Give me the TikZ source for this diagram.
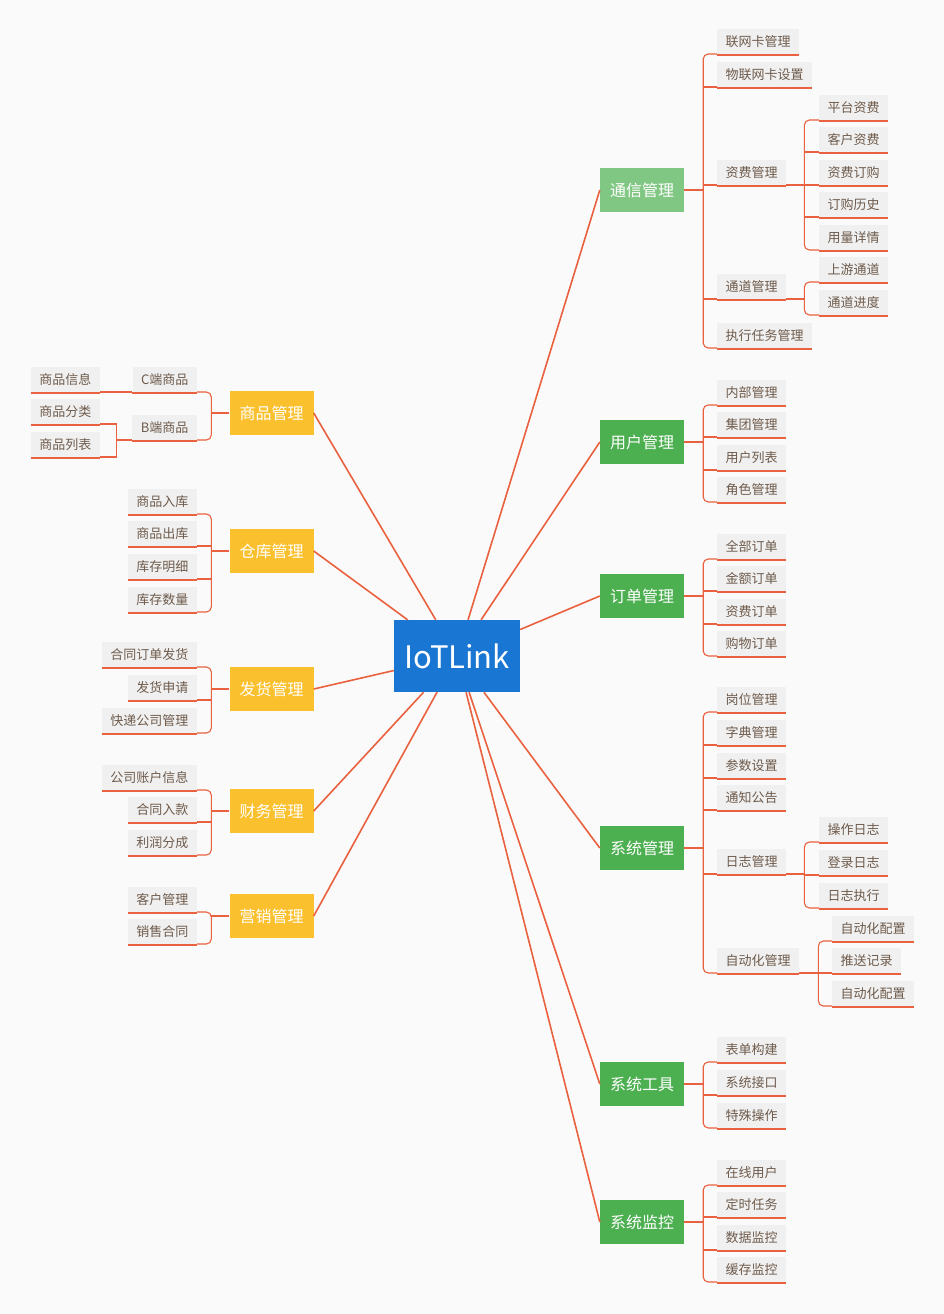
\documentclass[tikz,border=0pt]{standalone}
\usepackage{fontspec}
\setmainfont{Noto Sans CJK SC}
\usetikzlibrary{positioning}
\definecolor{bgcol}{HTML}{FAFAFA}
\definecolor{linecol}{HTML}{E9613E}
\definecolor{leafcol}{HTML}{F0F0F0}
\definecolor{leaftext}{HTML}{6E5B4C}
\definecolor{rootcol}{HTML}{1976D2}
\definecolor{greencol}{HTML}{4CAF50}
\definecolor{lightgreen}{HTML}{81C784}
\definecolor{yellowcol}{HTML}{FBC02D}
\begin{document}
\begin{tikzpicture}[x=1pt,y=-1pt,
	root/.style={fill=rootcol,text=white,font=\fontsize{31}{31}\selectfont,minimum width=126pt,minimum height=72pt,inner sep=0pt},
	topic/.style={fill=greencol,text=white,font=\fontsize{16}{16}\selectfont,minimum width=84pt,minimum height=44pt,inner sep=0pt},
	leaf/.style={fill=leafcol,text=leaftext,font=\fontsize{13}{13}\selectfont,inner xsep=8.5pt,inner ysep=0pt,minimum height=25pt,
		append after command={\pgfextra{\draw[uline] ([yshift=-1pt]\tikzlastnode.south west) -- ([yshift=-1pt]\tikzlastnode.south east);}}},
	leafR/.style={leaf,anchor=south west},
	leafL/.style={leaf,anchor=south east},
	uline/.style={draw=linecol,line width=2pt},
	branch/.style={draw=linecol,line width=1.1pt,rounded corners=5pt},
	trunk/.style={draw=linecol,line width=1.6pt}]

	\path[use as bounding box,fill=bgcol] (0,0) rectangle (944,1314);

	\node[root] (iot) at (457,656) {IoTLink};

	\node[topic,fill=lightgreen] (tx) at (642,190) {通信管理};
	\node[topic] (yh) at (642,442) {用户管理};
	\node[topic] (dd) at (642,596) {订单管理};
	\node[topic] (xt) at (642,848) {系统管理};
	\node[topic] (gj) at (642,1084) {系统工具};
	\node[topic] (jk) at (642,1222) {系统监控};

	\node[topic,fill=yellowcol] (sp) at (271.5,413) {商品管理};
	\node[topic,fill=yellowcol] (ck) at (271.5,551) {仓库管理};
	\node[topic,fill=yellowcol] (fh) at (271.5,689) {发货管理};
	\node[topic,fill=yellowcol] (cw) at (271.5,811) {财务管理};
	\node[topic,fill=yellowcol] (yx) at (271.5,916) {营销管理};

	\path[trunk] (iot) edge (tx.west) (iot) edge (yh.west) (iot) edge (dd.west)
		(iot) edge (xt.west) (iot) edge (gj.west) (iot) edge (jk.west);
	\path[trunk] (iot) edge (sp.east) (iot) edge (ck.east) (iot) edge (fh.east)
		(iot) edge (cw.east) (iot) edge (yx.east);

	% 通信管理
	\node[leafR] (tx1) at (717,54) {联网卡管理};
	\node[leafR] (tx2) at (717,87) {物联网卡设置};
	\node[leafR] (zf) at (717,185) {资费管理};
	\node[leafR] (td) at (717,299) {通道管理};
	\node[leafR] (tx5) at (717,348) {执行任务管理};
	\node[leafR] (zf1) at (819,120) {平台资费};
	\node[leafR] (zf2) at (819,152) {客户资费};
	\node[leafR] (zf3) at (819,185) {资费订购};
	\node[leafR] (zf4) at (819,217) {订购历史};
	\node[leafR] (zf5) at (819,250) {用量详情};
	\node[leafR] (td1) at (819,282) {上游通道};
	\node[leafR] (td2) at (819,315) {通道进度};

	\coordinate[right=19pt of tx] (txj);
	\coordinate[right=18pt of zf.south east] (zfj);
	\coordinate[right=18pt of td.south east] (tdj);
	\path[branch] (tx) edge (txj) (zf.south east) edge (zfj) (td.south east) edge (tdj);
	\draw[branch] (tx1.south west) -- (tx1.south west -| txj) -- (tx5.south west -| txj) -- (tx5.south west);
	\path[branch] (txj |- tx2.south) edge (tx2.south west) (txj |- zf.south) edge (zf.south west)
		(txj |- td.south) edge (td.south west);
	\draw[branch] (zf1.south west) -- (zf1.south west -| zfj) -- (zf5.south west -| zfj) -- (zf5.south west);
	\path[branch] (zfj |- zf2.south) edge (zf2.south west) (zfj |- zf3.south) edge (zf3.south west)
		(zfj |- zf4.south) edge (zf4.south west);
	\draw[branch] (td1.south west) -- (td1.south west -| tdj) -- (td2.south west -| tdj) -- (td2.south west);

	% 用户管理
	\node[leafR] (yh1) at (717,405) {内部管理};
	\node[leafR] (yh2) at (717,437) {集团管理};
	\node[leafR] (yh3) at (717,470) {用户列表};
	\node[leafR] (yh4) at (717,502) {角色管理};
	\coordinate[right=19pt of yh] (yhj);
	\path[branch] (yh) edge (yhj);
	\draw[branch] (yh1.south west) -- (yh1.south west -| yhj) -- (yh4.south west -| yhj) -- (yh4.south west);
	\path[branch] (yhj |- yh2.south) edge (yh2.south west) (yhj |- yh3.south) edge (yh3.south west);

	% 订单管理
	\node[leafR] (dd1) at (717,559) {全部订单};
	\node[leafR] (dd2) at (717,591) {金额订单};
	\node[leafR] (dd3) at (717,624) {资费订单};
	\node[leafR] (dd4) at (717,656) {购物订单};
	\coordinate[right=19pt of dd] (ddj);
	\path[branch] (dd) edge (ddj);
	\draw[branch] (dd1.south west) -- (dd1.south west -| ddj) -- (dd4.south west -| ddj) -- (dd4.south west);
	\path[branch] (ddj |- dd2.south) edge (dd2.south west) (ddj |- dd3.south) edge (dd3.south west);

	% 系统管理
	\node[leafR] (xt1) at (717,712) {岗位管理};
	\node[leafR] (xt2) at (717,745) {字典管理};
	\node[leafR] (xt3) at (717,778) {参数设置};
	\node[leafR] (xt4) at (717,810) {通知公告};
	\node[leafR] (rz) at (717,874) {日志管理};
	\node[leafR] (zd) at (717,973) {自动化管理};
	\node[leafR] (rz1) at (819,842) {操作日志};
	\node[leafR] (rz2) at (819,875) {登录日志};
	\node[leafR] (rz3) at (819,908) {日志执行};
	\node[leafR] (zd1) at (832,941) {自动化配置};
	\node[leafR] (zd2) at (832,973) {推送记录};
	\node[leafR] (zd3) at (832,1006) {自动化配置};

	\coordinate[right=19pt of xt] (xtj);
	\coordinate[right=18pt of rz.south east] (rzj);
	\coordinate[right=19pt of zd.south east] (zdj);
	\path[branch] (xt) edge (xtj) (rz.south east) edge (rzj) (zd.south east) edge (zdj);
	\draw[branch] (xt1.south west) -- (xt1.south west -| xtj) -- (zd.south west -| xtj) -- (zd.south west);
	\path[branch] (xtj |- xt2.south) edge (xt2.south west) (xtj |- xt3.south) edge (xt3.south west)
		(xtj |- xt4.south) edge (xt4.south west) (xtj |- rz.south) edge (rz.south west);
	\draw[branch] (rz1.south west) -- (rz1.south west -| rzj) -- (rz3.south west -| rzj) -- (rz3.south west);
	\path[branch] (rzj |- rz2.south) edge (rz2.south west);
	\draw[branch] (zd1.south west) -- (zd1.south west -| zdj) -- (zd3.south west -| zdj) -- (zd3.south west);
	\path[branch] (zdj |- zd2.south) edge (zd2.south west);

	% 系统工具
	\node[leafR] (gj1) at (717,1062) {表单构建};
	\node[leafR] (gj2) at (717,1095) {系统接口};
	\node[leafR] (gj3) at (717,1128) {特殊操作};
	\coordinate[right=19pt of gj] (gjj);
	\path[branch] (gj) edge (gjj);
	\draw[branch] (gj1.south west) -- (gj1.south west -| gjj) -- (gj3.south west -| gjj) -- (gj3.south west);
	\path[branch] (gjj |- gj2.south) edge (gj2.south west);

	% 系统监控
	\node[leafR] (jk1) at (717,1185) {在线用户};
	\node[leafR] (jk2) at (717,1217) {定时任务};
	\node[leafR] (jk3) at (717,1250) {数据监控};
	\node[leafR] (jk4) at (717,1282) {缓存监控};
	\coordinate[right=19pt of jk] (jkj);
	\path[branch] (jk) edge (jkj);
	\draw[branch] (jk1.south west) -- (jk1.south west -| jkj) -- (jk4.south west -| jkj) -- (jk4.south west);
	\path[branch] (jkj |- jk2.south) edge (jk2.south west) (jkj |- jk3.south) edge (jk3.south west);

	% 商品管理
	\node[leafL] (spc) at (197,392) {C端商品};
	\node[leafL] (spb) at (197,440) {B端商品};
	\node[leafL] (spi) at (100,392) {商品信息};
	\node[leafL] (spf) at (100,424) {商品分类};
	\node[leafL] (spl) at (100,457) {商品列表};
	\coordinate[left=18pt of sp] (spj);
	\coordinate[left=16pt of spb.south west] (spbj);
	\path[branch] (sp) edge (spj) (spb.south west) edge (spbj) (spi.south east) edge (spc.south west);
	\draw[branch] (spc.south east) -- (spc.south east -| spj) -- (spb.south east -| spj) -- (spb.south east);
	\draw[branch,rounded corners=0pt] (spf.south east) -- (spf.south east -| spbj) -- (spl.south east -| spbj) -- (spl.south east);

	% 仓库管理
	\node[leafL] (ck1) at (197,514) {商品入库};
	\node[leafL] (ck2) at (197,546) {商品出库};
	\node[leafL] (ck3) at (197,579) {库存明细};
	\node[leafL] (ck4) at (197,612) {库存数量};
	\coordinate[left=18pt of ck] (ckj);
	\path[branch] (ck) edge (ckj);
	\draw[branch] (ck1.south east) -- (ck1.south east -| ckj) -- (ck4.south east -| ckj) -- (ck4.south east);
	\path[branch] (ckj |- ck2.south) edge (ck2.south east) (ckj |- ck3.south) edge (ck3.south east);

	% 发货管理
	\node[leafL] (fh1) at (197,667) {合同订单发货};
	\node[leafL] (fh2) at (197,700) {发货申请};
	\node[leafL] (fh3) at (197,733) {快递公司管理};
	\coordinate[left=18pt of fh] (fhj);
	\path[branch] (fh) edge (fhj);
	\draw[branch] (fh1.south east) -- (fh1.south east -| fhj) -- (fh3.south east -| fhj) -- (fh3.south east);
	\path[branch] (fhj |- fh2.south) edge (fh2.south east);

	% 财务管理
	\node[leafL] (cw1) at (197,790) {公司账户信息};
	\node[leafL] (cw2) at (197,822) {合同入款};
	\node[leafL] (cw3) at (197,855) {利润分成};
	\coordinate[left=18pt of cw] (cwj);
	\path[branch] (cw) edge (cwj);
	\draw[branch] (cw1.south east) -- (cw1.south east -| cwj) -- (cw3.south east -| cwj) -- (cw3.south east);
	\path[branch] (cwj |- cw2.south) edge (cw2.south east);

	% 营销管理
	\node[leafL] (yx1) at (197,912) {客户管理};
	\node[leafL] (yx2) at (197,944) {销售合同};
	\coordinate[left=18pt of yx] (yxj);
	\path[branch] (yx) edge (yxj);
	\draw[branch] (yx1.south east) -- (yx1.south east -| yxj) -- (yx2.south east -| yxj) -- (yx2.south east);

\end{tikzpicture}
\end{document}
